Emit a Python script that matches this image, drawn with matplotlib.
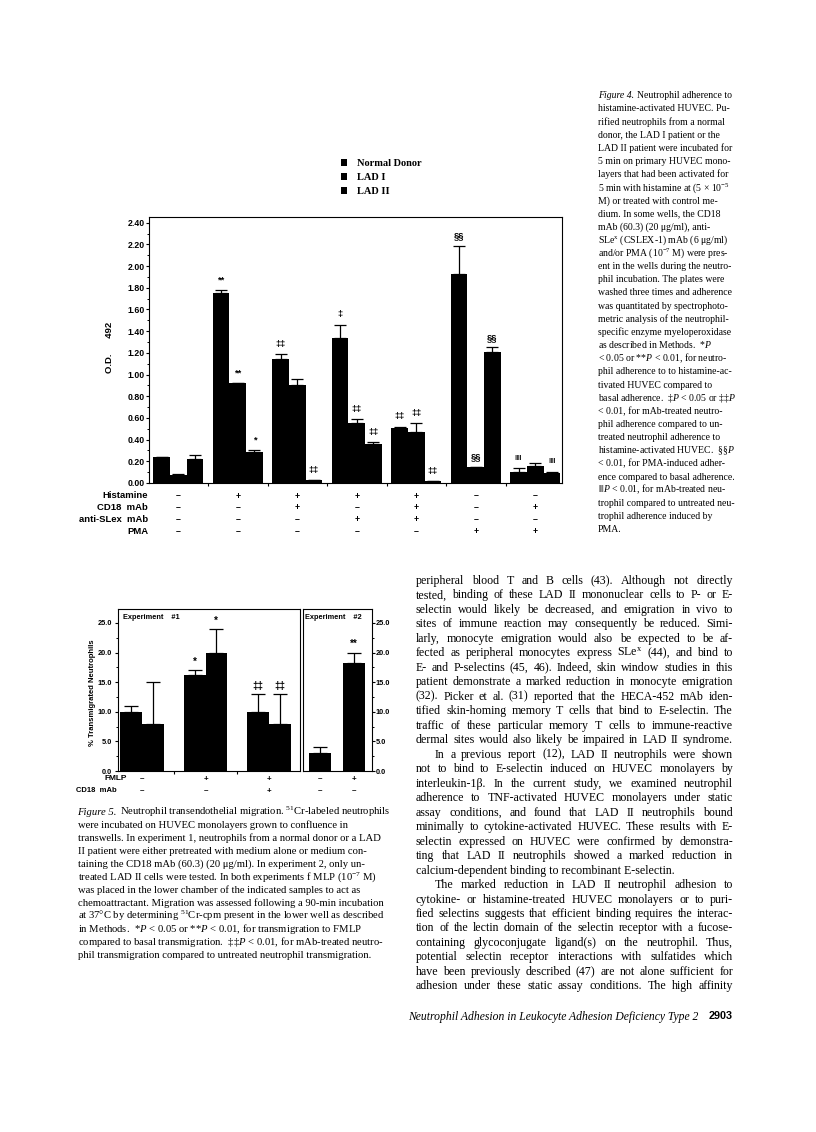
import numpy as np
import matplotlib
matplotlib.use("Agg")
import matplotlib.pyplot as plt
from matplotlib.transforms import blended_transform_factory
from matplotlib.ticker import MultipleLocator, FormatStrFormatter

plt.rcParams["mathtext.fontset"] = "custom"
plt.rcParams["mathtext.rm"] = "Liberation Serif"
plt.rcParams["mathtext.it"] = "Liberation Serif:italic"

SANS = ["Liberation Sans", "DejaVu Sans"]
SERIF = ["Liberation Serif", "DejaVu Serif"]

# ---- Figure 4 data: O.D. 492 ----
fig4_series = ["Normal Donor", "LAD I", "LAD II"]
fig4_rows = ["Histamine", "CD18  mAb", "anti-SLex  mAb", "PMA"]
fig4_signs = [
    ["-", "+", "+", "+", "+", "-", "-"],
    ["-", "-", "+", "-", "+", "-", "+"],
    ["-", "-", "-", "+", "+", "-", "-"],
    ["-", "-", "-", "-", "-", "+", "+"],
]
normal_od = [0.24, 1.75, 1.14, 1.34, 0.51, 1.93, 0.10]
normal_err = [0.0, 0.03, 0.05, 0.12, 0.01, 0.26, 0.04]
lad1_od = [0.075, 0.92, 0.90, 0.55, 0.47, 0.145, 0.155]
lad1_err = [0.005, 0.005, 0.06, 0.04, 0.08, 0.005, 0.025]
lad2_od = [0.22, 0.29, 0.03, 0.36, 0.02, 1.21, 0.09]
lad2_err = [0.04, 0.015, 0.0, 0.02, 0.0, 0.04, 0.015]
normal_sig = ["", "**", "‡‡", "‡", "‡‡", "§§", "‖‖"]
lad1_sig = ["", "**", "", "‡‡", "‡‡", "§§", ""]
lad2_sig = ["", "*", "‡‡", "‡‡", "‡‡", "§§", "‖‖"]

# ---- Figure 5 data: % transmigrated neutrophils ----
fig5_rows = ["FMLP", "CD18  mAb"]
exp1_signs = [["-", "+", "+"], ["-", "-", "+"]]
exp1_normal = [10.0, 16.2, 10.0]
exp1_normal_err = [1.0, 0.9, 3.0]
exp1_lad2 = [8.0, 20.0, 8.0]
exp1_lad2_err = [7.0, 4.0, 5.0]
exp1_normal_sig = ["", "*", "‡‡"]
exp1_lad2_sig = ["", "*", "‡‡"]
exp2_signs = [["-", "+"], ["-", "-"]]
exp2_lad2 = [3.0, 18.2]
exp2_lad2_err = [1.0, 1.8]
exp2_sig = ["", "**"]

# ---- page text ----
fig4_caption = [
    "Neutrophil adherence to",
    "histamine-activated HUVEC. Pu-",
    "rified neutrophils from a normal",
    "donor, the LAD I patient or the",
    "LAD II patient were incubated for",
    "5 min on primary HUVEC mono-",
    "layers that had been activated for",
    "5 min with histamine at (5 × 10$^{-5}$",
    "M) or treated with control me-",
    "dium. In some wells, the CD18",
    "mAb (60.3) (20 μg/ml), anti-",
    "SLe$^{\\mathrm{x}}$ (CSLEX-1) mAb (6 μg/ml)",
    "and/or PMA (10$^{-7}$ M) were pres-",
    "ent in the wells during the neutro-",
    "phil incubation. The plates were",
    "washed three times and adherence",
    "was quantitated by spectrophoto-",
    "metric analysis of the neutrophil-",
    "specific enzyme myeloperoxidase",
    "as described in Methods.  *$P$",
    "< 0.05 or **$P$ < 0.01, for neutro-",
    "phil adherence to to histamine-ac-",
    "tivated HUVEC compared to",
    "basal adherence.  ‡$P$ < 0.05 or ‡‡$P$",
    "< 0.01, for mAb-treated neutro-",
    "phil adherence compared to un-",
    "treated neutrophil adherence to",
    "histamine-activated HUVEC.  §§$P$",
    "< 0.01, for PMA-induced adher-",
    "ence compared to basal adherence.",
    "‖‖$P$ < 0.01, for mAb-treated neu-",
    "trophil compared to untreated neu-",
    "trophil adherence induced by",
    "PMA.",
]
fig5_caption = [
    "Neutrophil transendothelial migration. $^{51}$Cr-labeled neutrophils",
    "were incubated on HUVEC monolayers grown to confluence in",
    "transwells. In experiment 1, neutrophils from a normal donor or a LAD",
    "II patient were either pretreated with medium alone or medium con-",
    "taining the CD18 mAb (60.3) (20 μg/ml). In experiment 2, only un-",
    "treated LAD II cells were tested. In both experiments f MLP (10$^{-7}$ M)",
    "was placed in the lower chamber of the indicated samples to act as",
    "chemoattractant. Migration was assessed following a 90-min incubation",
    "at 37°C by determining $^{51}$Cr-cpm present in the lower well as described",
    "in Methods.  *$P$ < 0.05 or **$P$ < 0.01, for transmigration to FMLP",
    "compared to basal transmigration.  ‡‡$P$ < 0.01, for mAb-treated neutro-",
    "phil transmigration compared to untreated neutrophil transmigration.",
]
body_par1 = [
    "peripheral blood T and B cells (43). Although not directly",
    "tested, binding of these LAD II mononuclear cells to P- or E-",
    "selectin would likely be decreased, and emigration in vivo to",
    "sites of immune reaction may consequently be reduced. Simi-",
    "larly, monocyte emigration would also be expected to be af-",
    "fected as peripheral monocytes express SLe$^{\\mathrm{x}}$ (44), and bind to",
    "E- and P-selectins (45, 46). Indeed, skin window studies in this",
    "patient demonstrate a marked reduction in monocyte emigration",
    "(32). Picker et al. (31) reported that the HECA-452 mAb iden-",
    "tified skin-homing memory T cells that bind to E-selectin. The",
    "traffic of these particular memory T cells to immune-reactive",
    "dermal sites would also likely be impaired in LAD II syndrome.",
]
body_par2 = [
    "In a previous report (12), LAD II neutrophils were shown",
    "not to bind to E-selectin induced on HUVEC monolayers by",
    "interleukin-1β. In the current study, we examined neutrophil",
    "adherence to TNF-activated HUVEC monolayers under static",
    "assay conditions, and found that LAD II neutrophils bound",
    "minimally to cytokine-activated HUVEC. These results with E-",
    "selectin expressed on HUVEC were confirmed by demonstra-",
    "ting that LAD II neutrophils showed a marked reduction in",
    "calcium-dependent binding to recombinant E-selectin.",
]
body_par3 = [
    "The marked reduction in LAD II neutrophil adhesion to",
    "cytokine- or histamine-treated HUVEC monolayers or to puri-",
    "fied selectins suggests that efficient binding requires the interac-",
    "tion of the lectin domain of the selectin receptor with a fucose-",
    "containing glycoconjugate ligand(s) on the neutrophil. Thus,",
    "potential selectin receptor interactions with sulfatides which",
    "have been previously described (47) are not alone sufficient for",
    "adhesion under these static assay conditions. The high affinity",
]
running_title = "Neutrophil Adhesion in Leukocyte Adhesion Deficiency Type 2"
page_number = "2903"

W, H = 816, 1132
fig = plt.figure(figsize=(W / 100, H / 100), dpi=100)
fig.patch.set_facecolor("white")
rend = fig.canvas.get_renderer()


def px_axes(left, top, right, bottom):
    return fig.add_axes([left / W, 1 - bottom / H, (right - left) / W, (bottom - top) / H])


def write(x, y, s, size, width=None, lead=None, family=SERIF, style="normal", weight="normal"):
    # y is the visual middle of the line in page pixels
    em = size * 100 / 72
    base = y + 0.33 * em
    yy = 1 - base / H
    kw = dict(fontsize=size, family=family, style=style, weight=weight, va="baseline", ha="left")
    cx = x
    if lead:
        t = fig.text(cx / W, yy, lead, **dict(kw, style="italic"))
        cx += t.get_window_extent(rend).width + 0.3 * em
    if width is None:
        fig.text(cx / W, yy, s, **kw)
        return
    words = s.split()
    texts = [fig.text(0, yy, w_, **kw) for w_ in words]
    widths = [t.get_window_extent(rend).width for t in texts]
    gap = (x + width - cx - sum(widths)) / max(len(words) - 1, 1)
    gap = max(gap, 0.16 * em)
    for t, w_ in zip(texts, widths):
        t.set_x(cx / W)
        cx += w_ + gap


def sign(s):
    return "+" if s == "+" else "–"


# ================= Figure 4 =================
ax4 = px_axes(149, 217, 562, 483)
groups = np.arange(len(normal_od))
bw = 0.28
fig4_data = [(normal_od, normal_err, normal_sig),
             (lad1_od, lad1_err, lad1_sig),
             (lad2_od, lad2_err, lad2_sig)]
handles = []
for k, (vals, errs, sigs) in enumerate(fig4_data):
    xs = groups + (k - 1) * bw
    b = ax4.bar(xs, vals, bw, color="black", linewidth=0)
    handles.append(b)
    ax4.errorbar(xs, vals, yerr=[np.zeros(len(vals)), errs], fmt="none", ecolor="black",
                 elinewidth=0.9, capsize=4.2, capthick=0.9)
    for x, v, e, s in zip(xs, vals, errs, sigs):
        if s:
            fs = 5.6 if s.startswith("‖") else 6.8
            ax4.annotate(s, (x, v + e), xytext=(0, 7), textcoords="offset points",
                         ha="center", va="center", fontsize=fs, family=SANS, fontweight="bold")
ax4.set_xlim(-0.492, 6.449)
ax4.set_ylim(0, 2.453)
ax4.yaxis.set_major_locator(MultipleLocator(0.2))
ax4.yaxis.set_minor_locator(MultipleLocator(0.1))
ax4.yaxis.set_major_formatter(FormatStrFormatter("%.2f"))
ax4.set_xticks(np.arange(0.5, 6, 1))
ax4.set_xticklabels([])
for sp in ax4.spines.values():
    sp.set_linewidth(0.8)
ax4.tick_params(axis="both", which="major", direction="out", length=2.4, width=0.8, pad=0.8)
ax4.tick_params(axis="y", which="minor", direction="out", length=1.4, width=0.7)
for lab in ax4.get_yticklabels():
    lab.set_fontsize(6.3)
    lab.set_family(SANS)
    lab.set_fontweight("bold")

fig.text(109 / W, 1 - 347 / H, "O.D.      492", rotation=90, ha="center", va="center",
         fontsize=6.8, family=SANS, fontweight="bold")

tr4 = blended_transform_factory(ax4.transData, fig.transFigure)
row_y4 = [496, 507.5, 519.5, 531.5]
for r, (label, signs) in enumerate(zip(fig4_rows, fig4_signs)):
    yy = 1 - row_y4[r] / H
    fig.text(148 / W, yy, label, ha="right", va="center", fontsize=6.8, family=SANS, fontweight="bold")
    for g, s in enumerate(signs):
        ax4.text(g, yy, sign(s), transform=tr4, ha="center", va="center",
                 fontsize=6.3, family=SANS, fontweight="bold")

fig.legend(handles, fig4_series, loc="upper left", bbox_to_anchor=(341 / W, 1 - 159 / H),
           frameon=False, prop=dict(family=SERIF, weight="bold", size=7.5),
           handlelength=0.6, handleheight=0.6, handletextpad=0.9, labelspacing=0.5,
           borderpad=0, borderaxespad=0)

# ================= Figure 5 =================
ax5a = px_axes(118, 609, 300, 771)
g5 = np.arange(len(exp1_normal))
bw5 = 0.339
for k, (vals, errs, sigs) in enumerate([(exp1_normal, exp1_normal_err, exp1_normal_sig),
                                        (exp1_lad2, exp1_lad2_err, exp1_lad2_sig)]):
    xs = g5 + (k - 0.5) * bw5
    ax5a.bar(xs, vals, bw5, color="black", linewidth=0)
    ax5a.errorbar(xs, vals, yerr=[np.zeros(len(vals)), errs], fmt="none", ecolor="black",
                  elinewidth=0.9, capsize=4.8, capthick=0.9)
    for x, v, e, s in zip(xs, vals, errs, sigs):
        if s:
            ax5a.annotate(s, (x, v + e), xytext=(0, 6), textcoords="offset points",
                          ha="center", va="center", fontsize=7.0, family=SANS, fontweight="bold")
ax5a.set_xlim(-0.378, 2.488)
ax5a.set_ylim(0, 27.36)
ax5a.set_xticks([0.5, 1.5])
ax5a.set_xticklabels([])

ax5b = px_axes(303, 609, 372, 771)
g6 = np.arange(len(exp2_lad2))
ax5b.bar(g6, exp2_lad2, 0.647, color="black", linewidth=0)
ax5b.errorbar(g6, exp2_lad2, yerr=[np.zeros(len(exp2_lad2)), exp2_lad2_err], fmt="none",
              ecolor="black", elinewidth=0.9, capsize=4.8, capthick=0.9)
for x, v, e, s in zip(g6, exp2_lad2, exp2_lad2_err, exp2_sig):
    if s:
        ax5b.annotate(s, (x, v + e), xytext=(0, 6), textcoords="offset points",
                      ha="center", va="center", fontsize=7.0, family=SANS, fontweight="bold")
ax5b.set_xlim(-0.5, 1.53)
ax5b.set_ylim(0, 27.36)
ax5b.set_xticks([])
ax5b.yaxis.tick_right()

for ax in (ax5a, ax5b):
    ax.yaxis.set_major_locator(MultipleLocator(5))
    ax.yaxis.set_minor_locator(MultipleLocator(2.5))
    ax.yaxis.set_major_formatter(FormatStrFormatter("%.1f"))
    for sp in ax.spines.values():
        sp.set_linewidth(0.8)
    ax.tick_params(axis="both", which="major", direction="out", length=2.2, width=0.8)
    ax.tick_params(axis="y", which="minor", direction="out", length=1.2, width=0.7)
    for lab in ax.get_yticklabels():
        lab.set_fontsize(5.3)
        lab.set_family(SANS)
        lab.set_fontweight("bold")
ax5a.tick_params(axis="y", which="major", pad=2.2)
ax5b.tick_params(axis="y", which="major", pad=0.6)

ax5a.text(0.03, 0.95, "Experiment    #1", transform=ax5a.transAxes, fontsize=5.3,
          family=SANS, fontweight="bold", va="center")
ax5b.text(0.03, 0.95, "Experiment    #2", transform=ax5b.transAxes, fontsize=5.3,
          family=SANS, fontweight="bold", va="center")
fig.text(92 / W, 1 - 693 / H, "% Transmigrated Neutrophils", rotation=90, ha="center",
         va="center", fontsize=5.5, family=SANS, fontweight="bold")

row_y5 = [779, 791]
fig.text(127 / W, 1 - row_y5[0] / H, fig5_rows[0], ha="right", va="center", fontsize=6.0,
         family=SANS, fontweight="bold")
fig.text(117 / W, 1 - row_y5[1] / H, fig5_rows[1], ha="right", va="center", fontsize=5.5,
         family=SANS, fontweight="bold")
tr5a = blended_transform_factory(ax5a.transData, fig.transFigure)
tr5b = blended_transform_factory(ax5b.transData, fig.transFigure)
for r in range(2):
    yy = 1 - row_y5[r] / H
    for g, s in enumerate(exp1_signs[r]):
        ax5a.text(g, yy, sign(s), transform=tr5a, ha="center", va="center",
                  fontsize=5.8, family=SANS, fontweight="bold")
    for g, s in enumerate(exp2_signs[r]):
        ax5b.text(g, yy, sign(s), transform=tr5b, ha="center", va="center",
                  fontsize=5.8, family=SANS, fontweight="bold")

# ================= text =================
for i, line in enumerate(fig4_caption):
    write(598, 95 + i * 13.15, line, 7.0, lead="Figure 4." if i == 0 else None)

for i, line in enumerate(fig5_caption):
    write(77.5, 811 + i * 13.0, line, 7.7, lead="Figure 5." if i == 0 else None)

body_x, body_w, indent = 416, 317, 19
n = 0
for p, par in enumerate([body_par1, body_par2, body_par3]):
    for j, line in enumerate(par):
        y = 580 + n * 14.48
        x0 = body_x + (indent if (p > 0 and j == 0) else 0)
        ragged = (p == 1 and j == len(par) - 1)
        write(x0, y, line, 8.6, width=None if ragged else body_x + body_w - x0)
        n += 1

write(408, 1016, running_title, 8.4, style="italic")
fig.text(733 / W, 1 - (1016 + 3) / H, page_number, ha="right", va="baseline", fontsize=7.8,
         family=SANS, fontweight="bold")

fig.savefig("out.png", dpi=100)
